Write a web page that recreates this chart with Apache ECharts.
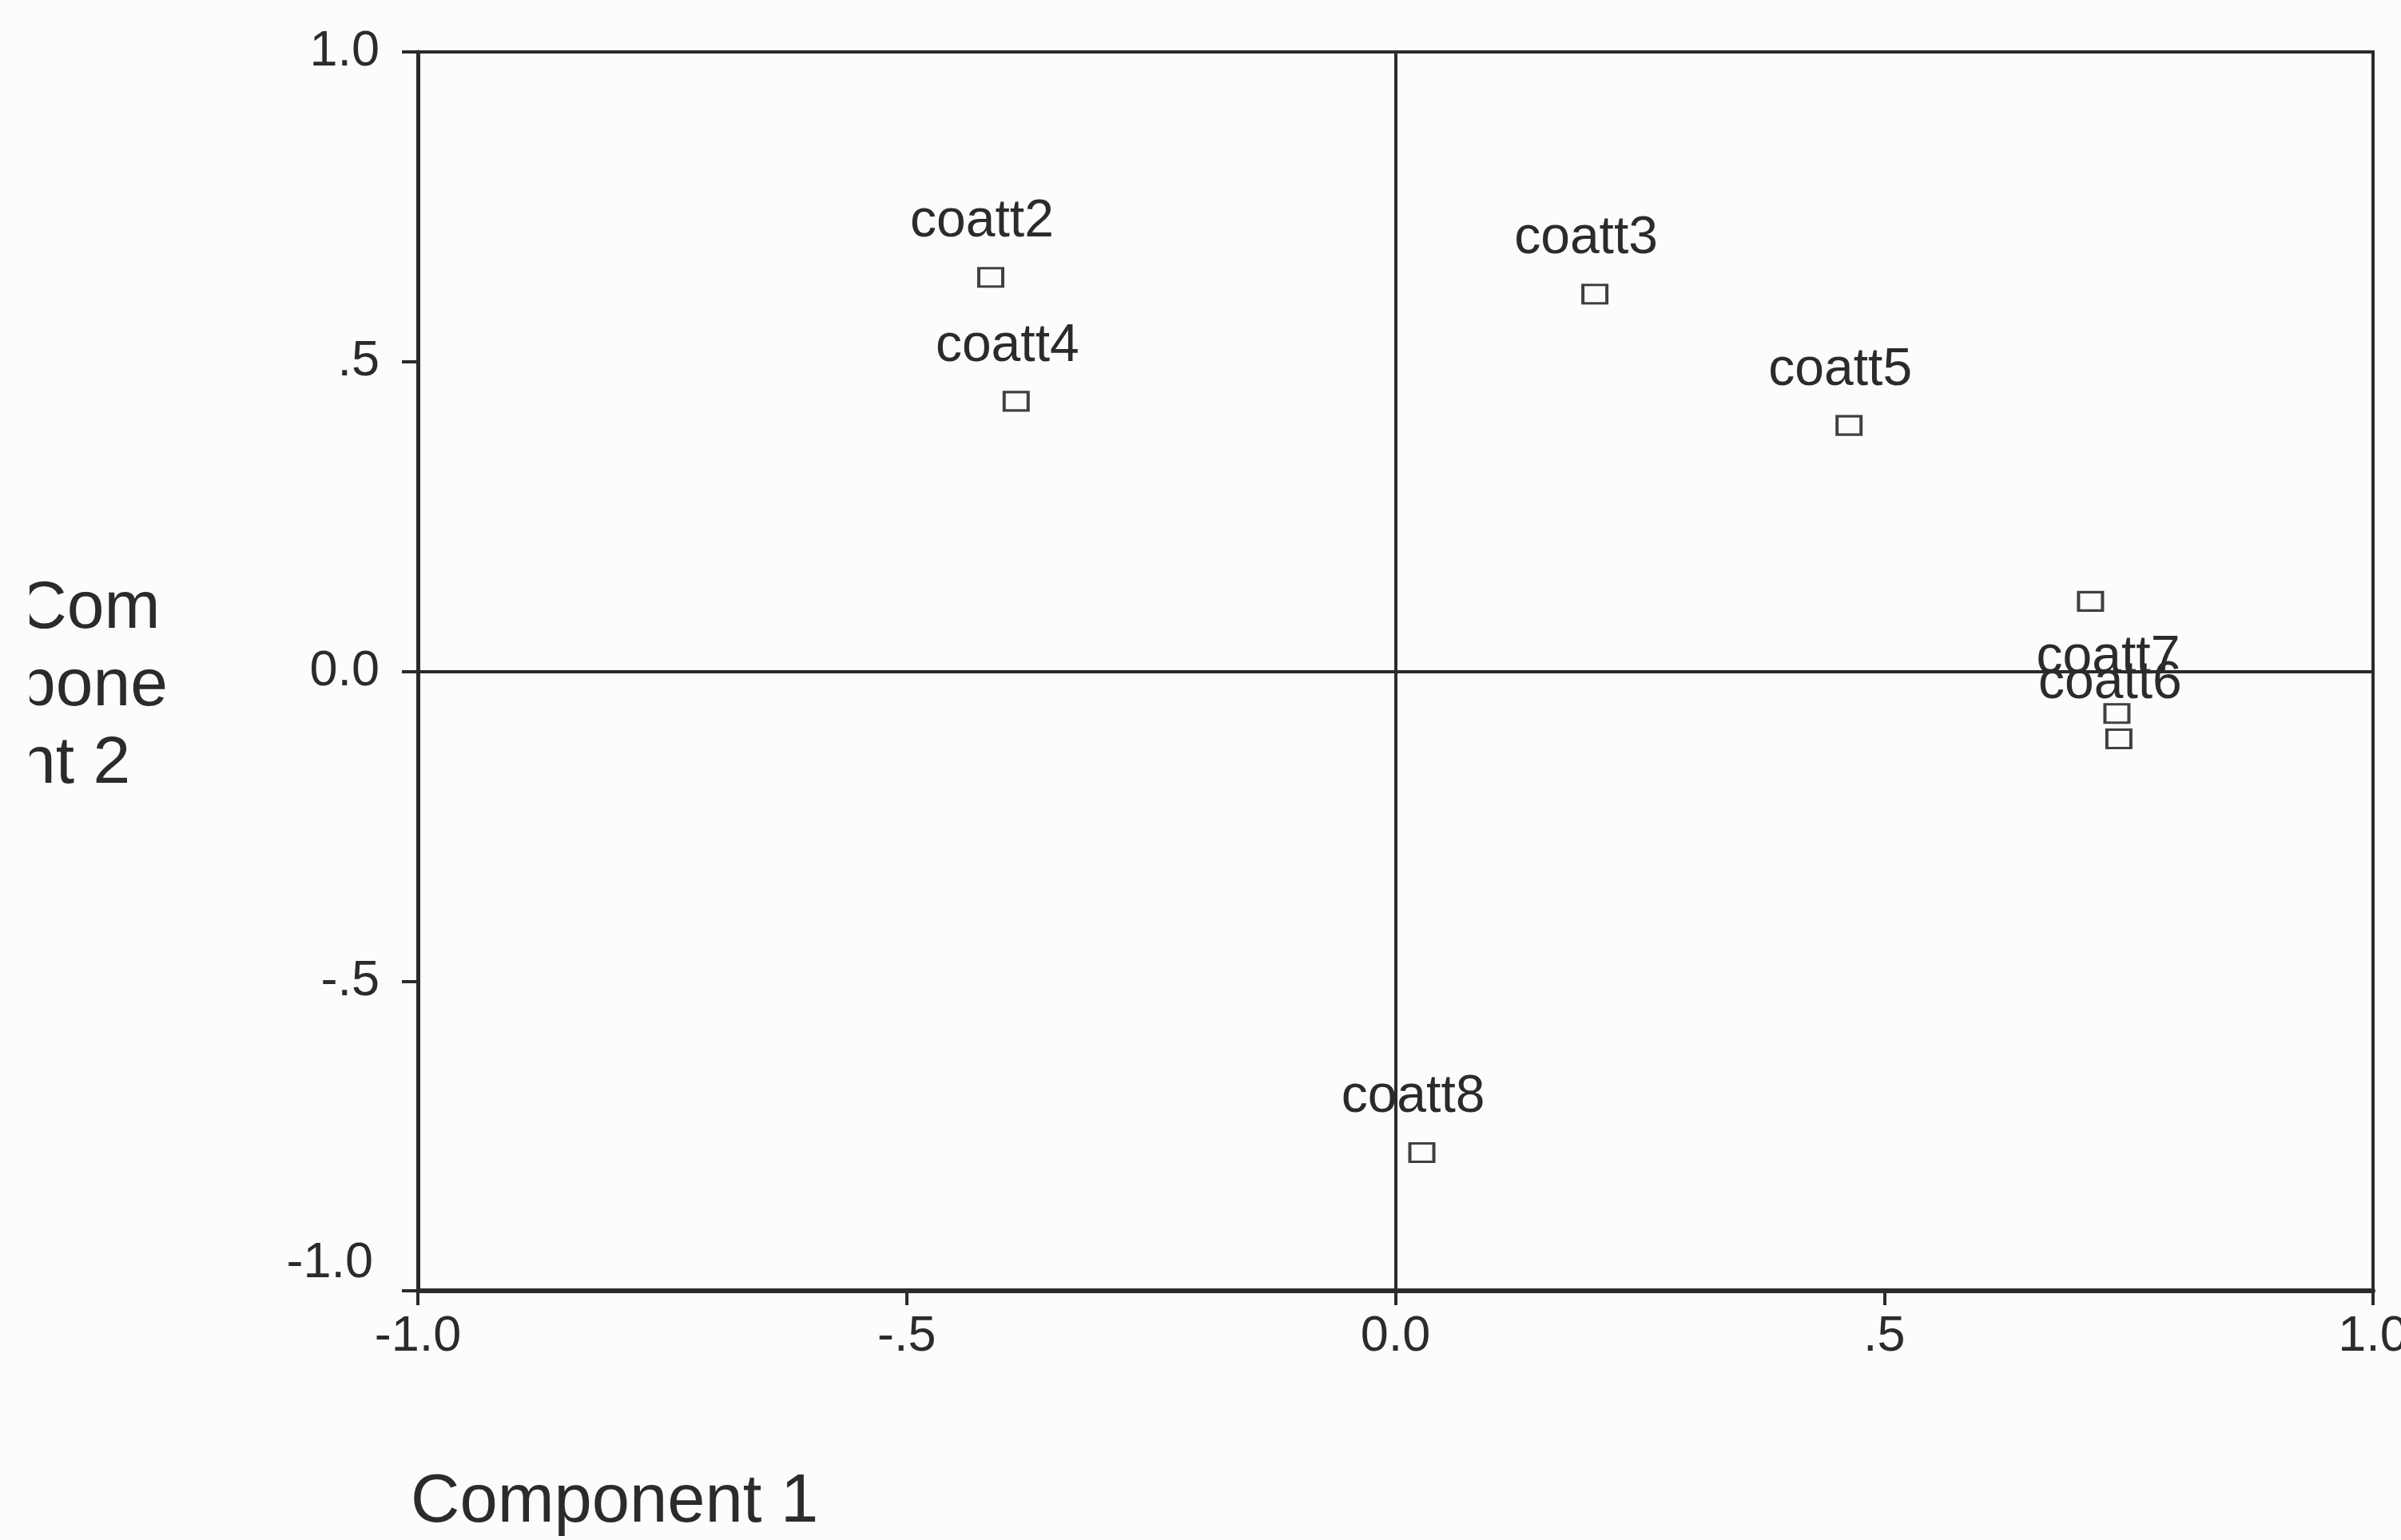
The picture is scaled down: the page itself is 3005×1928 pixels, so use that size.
<!DOCTYPE html>
<html>
<head>
<meta charset="utf-8">
<script src="https://cdn.jsdelivr.net/npm/echarts@6/dist/echarts.min.js"></script>
<style>
  html, body { margin: 0; padding: 0; background: #fcfcfc; }
  #chart { width: 3005px; height: 1928px; }
</style>
</head>
<body>
<div id="chart"></div>
<script>
// Component loadings (rotated component plot)
const pointLabels = ['coatt2', 'coatt4', 'coatt3', 'coatt5', '', 'coatt7', 'coatt6', 'coatt8'];
const component1 = [-0.414, -0.388, 0.204, 0.464, 0.711, 0.738, 0.740, 0.027];
const component2 = [0.636, 0.436, 0.609, 0.397, 0.113, -0.068, -0.109, -0.777];

// Axis ticks and their printed form
const tickValues = [-1, -0.5, 0, 0.5, 1];
const tickLabels = ['-1.0', '-.5', '0.0', '.5', '1.0'];

const xTitle = 'Component 1';
const yTitleLines = ['Com', 'pone', 'nt 2'];

const INK = '#2b2b2b';
const BG = '#fcfcfc';
const FONT = '"Liberation Sans", Arial, sans-serif';

function tickText(v) {
  const i = tickValues.findIndex(t => Math.abs(t - v) < 1e-9);
  return i >= 0 ? tickLabels[i] : '';
}

const points = component1.map((x, i) => [x, component2[i], pointLabels[i]]);

const chart = echarts.init(document.getElementById('chart'), null, { renderer: 'canvas' });

chart.setOption({
  backgroundColor: BG,
  animation: false,
  grid: {
    left: 523, right: 35, top: 65, bottom: 312,
    outerBoundsMode: 'none',
    show: true,
    borderColor: INK,
    borderWidth: 4,
    backgroundColor: 'transparent'
  },
  xAxis: {
    type: 'value',
    min: -1, max: 1, interval: 0.5,
    axisLine: { show: true, onZero: false, lineStyle: { color: INK, width: 6 } },
    axisTick: { show: true, inside: false, length: 18, lineStyle: { color: INK, width: 4 } },
    splitLine: { show: false },
    axisLabel: {
      show: true, margin: 26, color: INK, fontSize: 63, fontFamily: FONT,
      showMinLabel: true, showMaxLabel: true,
      formatter: v => tickText(v)
    }
  },
  yAxis: {
    type: 'value',
    min: -1, max: 1, interval: 0.5,
    axisLine: { show: true, onZero: false, lineStyle: { color: INK, width: 5 } },
    axisTick: { show: true, inside: false, length: 20, lineStyle: { color: INK, width: 4 } },
    splitLine: { show: false },
    axisLabel: {
      show: true, margin: 48, color: INK, fontSize: 63, fontFamily: FONT,
      showMinLabel: true, showMaxLabel: true,
      formatter: v => (Math.abs(v + 1) < 1e-9 ? '{low|' + tickText(v) + '}' : tickText(v)),
      rich: {
        low: { fontSize: 63, fontFamily: FONT, color: INK, padding: [0, 8, 68, 0] }
      }
    }
  },
  series: [{
    type: 'scatter',
    data: points,
    symbol: 'rect',
    symbolSize: [30, 23],
    itemStyle: { color: BG, borderColor: '#404040', borderWidth: 3.5, opacity: 1 },
    label: {
      show: true,
      position: 'top',
      distance: 23,
      padding: [0, 22, 0, 0],
      color: INK,
      fontSize: 66,
      fontFamily: FONT,
      formatter: p => p.data[2]
    },
    labelLayout: { hideOverlap: false },
    markLine: {
      silent: true,
      symbol: ['none', 'none'],
      label: { show: false },
      lineStyle: { color: INK, width: 4, type: 'solid' },
      emphasis: { disabled: true },
      data: [{ xAxis: 0 }, { yAxis: 0 }]
    },
    z: 3
  }],
  graphic: [
    {
      type: 'text',
      x: 514, y: 1882,
      style: {
        text: xTitle,
        fill: INK,
        fontSize: 85,
        fontFamily: FONT,
        align: 'left',
        verticalAlign: 'middle'
      },
      z: 10
    },
    {
      type: 'text',
      x: 23, y: 860,
      style: {
        text: yTitleLines.join('\n'),
        fill: INK,
        fontSize: 84,
        fontFamily: FONT,
        lineHeight: 97,
        align: 'left',
        verticalAlign: 'middle'
      },
      z: 10
    },
    {
      // page edge trimming the start of the wrapped axis title
      type: 'rect',
      shape: { x: 0, y: 680, width: 37, height: 340 },
      style: { fill: BG },
      z: 11
    }
  ]
});
</script>
</body>
</html>
